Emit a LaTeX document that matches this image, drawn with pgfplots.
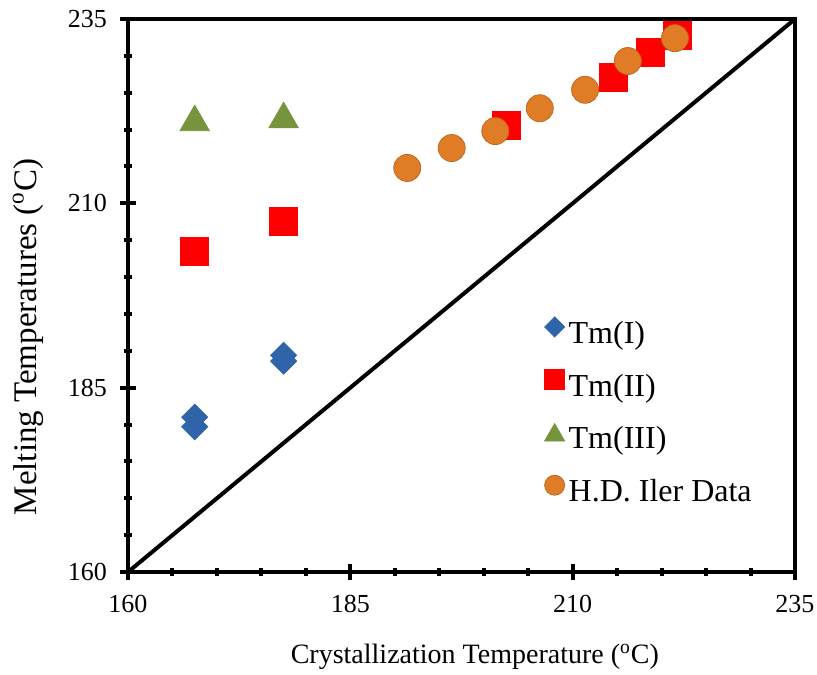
\documentclass[border=0pt]{standalone}
\usepackage{fontspec}
\setmainfont{Liberation Serif}
\usepackage{pgfplots}
\pgfplotsset{compat=1.18}
\definecolor{cI}{HTML}{2F64A8}
\definecolor{cII}{HTML}{FF0000}
\definecolor{cIII}{HTML}{77933C}
\definecolor{cIV}{HTML}{E07C26}
\begin{document}
\begin{tikzpicture}
\useasboundingbox (-64pt,-51pt) rectangle (344.5pt,286pt);
\begin{axis}[
  at={(0,0)}, anchor=south west,
  scale only axis, width=333.5pt, height=276.5pt,
  xmin=160, xmax=235, ymin=160, ymax=235,
  xtick={160,185,210,235}, ytick={160,185,210,235},
  minor tick num=4,
  xtick pos=bottom, ytick pos=left,
  tick align=center,
  major tick length=8pt, minor tick length=4pt,
  every tick/.style={black, line width=2pt},
  axis line style={black, line width=2pt},
  /pgf/number format/assume math mode=true,
  /pgf/number format/1000 sep={},
  tick label style={font=\fontsize{13}{15}\selectfont},
  xticklabel style={yshift=-4pt},
  yticklabel style={xshift=-3pt},
  xlabel={Crystallization Temperature (\textsuperscript{o}C)},
  ylabel={Melting Temperatures (\textsuperscript{o}C)},
  x label style={at={(axis description cs:0.52,-0.1537)}, anchor=center,
    font=\fontsize{14}{16}\selectfont},
  y label style={at={(axis description cs:-0.15,0.425)}, anchor=center,
    font=\fontsize{16.5}{18}\selectfont},
  legend style={at={(axis description cs:0.624,0.462)}, anchor=north west,
    draw=none, fill=none, font=\fontsize{16}{18}\selectfont,
    row sep=9.7pt, inner sep=0pt},
  legend cell align=left,
  legend image code/.code={\draw[#1] plot coordinates {(0.25cm,0.12cm)};},
]
\addplot[black, line width=2pt, forget plot] coordinates {(160,160) (235,235)};
\addplot[only marks, mark=square*, mark options={rotate=45}, mark size=4.6pt, color=cI, fill=cI,
  legend image post style={mark size=3.55pt}]
  coordinates {(167.5,179.7) (167.5,181.0) (177.5,188.6) (177.5,189.4)};
\addlegendentry{Tm(I)}
\addplot[only marks, mark=square*, mark size=7pt, color=cII, fill=cII,
  legend image post style={mark size=5pt}]
  coordinates {(167.5,203.5) (177.5,207.6) (202.5,220.6) (214.6,227.1) (218.7,230.5) (221.8,232.8)};
\addlegendentry{Tm(II)}
\addplot[only marks, mark=triangle*, mark size=8.5pt, color=cIII, fill=cIII,
  legend image post style={mark size=5.8pt, yshift=-0.05cm}]
  coordinates {(167.5,221.0) (177.5,221.4)};
\addlegendentry{Tm(III)}
\addplot[only marks, mark=*, mark size=6.75pt, color=cIV!85!black, fill=cIV,
  legend image post style={mark size=5pt}]
  coordinates {(191.4,214.8) (196.4,217.5) (201.3,219.8) (206.3,222.9) (211.4,225.4) (216.2,229.3) (221.5,232.4)};
\addlegendentry{H.D. Iler Data}
\end{axis}
\end{tikzpicture}
\end{document}
